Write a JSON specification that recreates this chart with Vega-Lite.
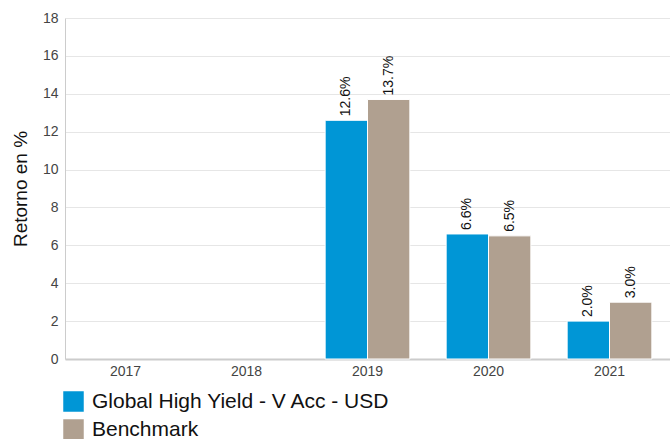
{
  "$schema": "https://vega.github.io/schema/vega-lite/v6.json",
  "width": 605,
  "height": 341,
  "autosize": {"type": "none"},
  "padding": {"left": 65, "top": 18, "right": 0, "bottom": 80},
  "background": "white",
  "config": {
    "font": "Liberation Sans",
    "view": {"stroke": null}
  },
  "data": {
    "values": [
      {"year": "2019", "series": "Global High Yield - V Acc - USD", "value": 12.6},
      {"year": "2019", "series": "Benchmark", "value": 13.7},
      {"year": "2020", "series": "Global High Yield - V Acc - USD", "value": 6.6},
      {"year": "2020", "series": "Benchmark", "value": 6.5},
      {"year": "2021", "series": "Global High Yield - V Acc - USD", "value": 2.0},
      {"year": "2021", "series": "Benchmark", "value": 3.0}
    ]
  },
  "transform": [
    {"calculate": "format(datum.value, '.1f') + '%'", "as": "label"}
  ],
  "encoding": {
    "x": {
      "field": "year",
      "type": "nominal",
      "scale": {"domain": ["2017", "2018", "2019", "2020", "2021"], "paddingInner": 0.3, "paddingOuter": 0.15},
      "axis": {
        "title": null,
        "labelAngle": 0,
        "labelFontSize": 14,
        "labelColor": "#444444",
        "labelPadding": 5,
        "ticks": false,
        "domainColor": "#cccccc",
        "domainWidth": 2
      }
    },
    "xOffset": {
      "field": "series",
      "type": "nominal",
      "scale": {"domain": ["Global High Yield - V Acc - USD", "Benchmark"], "paddingInner": 0}
    },
    "y": {
      "field": "value",
      "type": "quantitative",
      "scale": {"domain": [0, 18], "nice": false},
      "axis": {
        "title": "Retorno en %",
        "titleFontSize": 19,
        "titleFontWeight": "normal",
        "titleColor": "#111111",
        "titlePadding": 12,
        "values": [0, 2, 4, 6, 8, 10, 12, 14, 16, 18],
        "labelFontSize": 14,
        "labelColor": "#444444",
        "labelPadding": 7,
        "ticks": false,
        "domainColor": "#cccccc",
        "gridColor": "#e6e6e6"
      }
    }
  },
  "layer": [
    {
      "mark": {"type": "bar", "stroke": "white", "strokeWidth": 1},
      "encoding": {
        "color": {
          "field": "series",
          "type": "nominal",
          "scale": {
            "domain": ["Global High Yield - V Acc - USD", "Benchmark"],
            "range": ["#0096d6", "#b0a090"]
          },
          "legend": {
            "title": null,
            "orient": "none",
            "legendX": -2,
            "legendY": 373,
            "symbolType": "square",
            "symbolSize": 420,
            "symbolStrokeWidth": 0,
            "symbolOpacity": 1,
            "labelFontSize": 21,
            "labelColor": "#111111",
            "labelOffset": 8,
            "rowPadding": 6,
            "labelLimit": 500
          }
        }
      }
    },
    {
      "mark": {"type": "text", "angle": 270, "align": "left", "baseline": "middle", "dx": 4, "fontSize": 14, "color": "#111111"},
      "encoding": {
        "text": {"field": "label"}
      }
    }
  ]
}
